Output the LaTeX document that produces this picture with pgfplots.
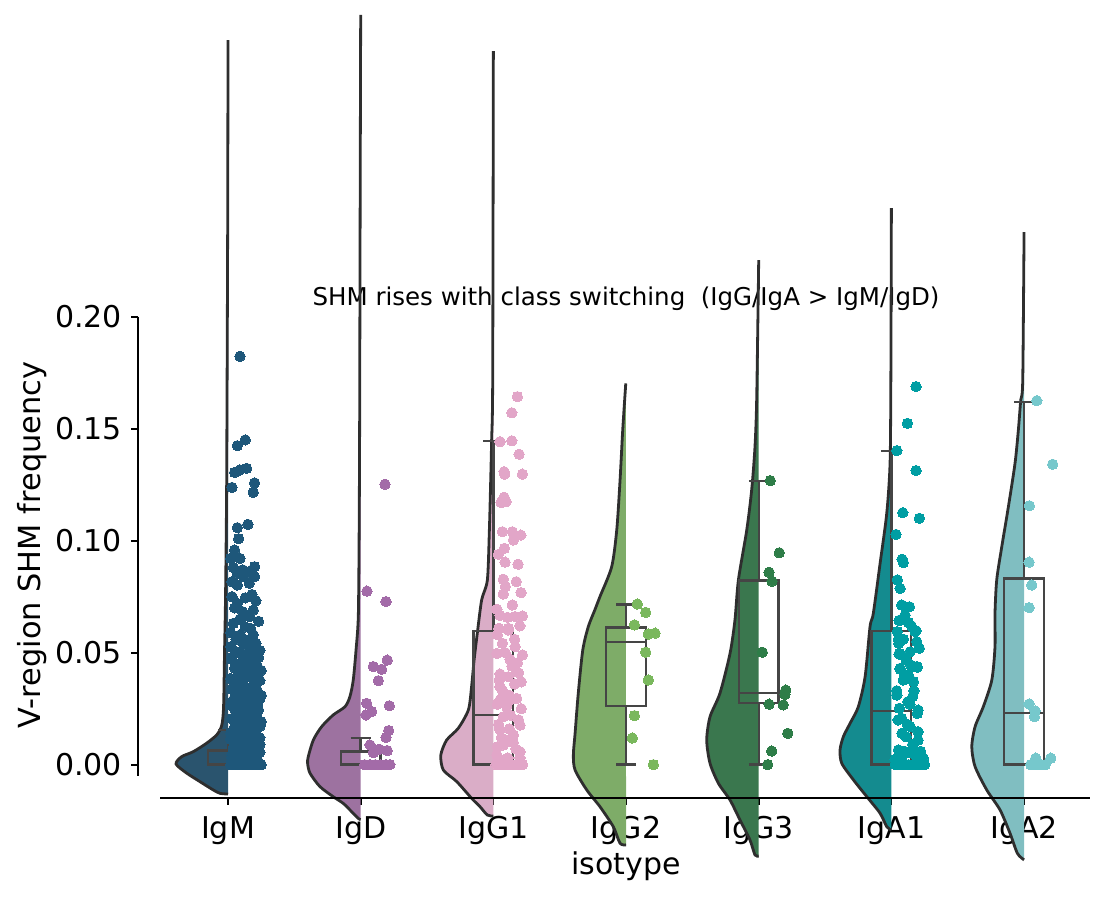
\documentclass[border=0pt]{standalone}
\usepackage{fontspec}
\setmainfont{DejaVu Sans}
\usepackage{pgfplots}
\pgfplotsset{compat=1.18}
\usepackage{pgfplotstable}
\usepgfplotslibrary{statistics}

\definecolor{pM}{HTML}{1E577A}
\definecolor{pD}{HTML}{A36BA8}
\definecolor{pG1}{HTML}{E2A6C8}
\definecolor{pG2}{HTML}{7AB85D}
\definecolor{pG3}{HTML}{2E7D48}
\definecolor{pA1}{HTML}{009EA3}
\definecolor{pA2}{HTML}{76C8CC}
\definecolor{vM}{HTML}{2A546E}
\definecolor{vD}{HTML}{9D72A0}
\definecolor{vG1}{HTML}{DAADC7}
\definecolor{vG2}{HTML}{7EAC68}
\definecolor{vG3}{HTML}{3A774E}
\definecolor{vA1}{HTML}{148B8F}
\definecolor{vA2}{HTML}{80BEC1}
\definecolor{vline}{HTML}{2E2E2E}
\definecolor{boxc}{HTML}{454545}

% ---------- violin outlines: y, half width ----------
\pgfplotstableread{
y w
-0.0131 0
-0.0128 0.060
-0.0113 0.111
-0.0076 0.211
-0.0038 0.311
0.0003 0.392
0.0036 0.349
0.0058 0.262
0.0096 0.161
0.0133 0.085
0.0170 0.050
0.0214 0.038
0.0289 0.032
0.0510 0.026
0.0735 0.019
0.1180 0.011
0.1630 0.0075
0.2075 0.0045
0.2520 0.002
0.3235 0
}\violM
\pgfplotstableread{
y w
-0.0245 0
-0.0240 0.018
-0.0210 0.068
-0.0173 0.131
-0.0143 0.207
-0.0098 0.307
-0.0038 0.382
0.0006 0.400
0.0036 0.395
0.0110 0.357
0.0170 0.294
0.0222 0.207
0.0259 0.118
0.0304 0.081
0.0378 0.056
0.0512 0.035
0.0661 0.018
0.1000 0.012
0.1500 0.008
0.2500 0.004
0.3347 0
}\violD
\pgfplotstableread{
y w
-0.0229 0
-0.0225 0.045
-0.0188 0.100
-0.0150 0.164
-0.0075 0.277
-0.0024 0.377
0.0043 0.396
0.0110 0.352
0.0163 0.264
0.0245 0.188
0.0349 0.164
0.0468 0.145
0.0587 0.121
0.0736 0.088
0.0825 0.045
0.1048 0.030
0.1271 0.020
0.1450 0.013
0.1722 0.005
0.3186 0
}\violGa
\pgfplotstableread{
y w
-0.0358 0
-0.0351 0.045
-0.0277 0.096
-0.0188 0.196
-0.0113 0.296
-0.0024 0.384
0.0043 0.397
0.0140 0.384
0.0319 0.360
0.0512 0.326
0.0617 0.284
0.0691 0.235
0.0751 0.196
0.0884 0.108
0.1048 0.070
0.1271 0.045
0.1494 0.025
0.1702 0.002
}\violGb
\pgfplotstableread{
y w
-0.0408 0
-0.0403 0.028
-0.0336 0.066
-0.0247 0.141
-0.0158 0.216
-0.0083 0.304
0.0006 0.367
0.0110 0.392
0.0214 0.367
0.0319 0.292
0.0497 0.216
0.0646 0.179
0.0825 0.153
0.1048 0.090
0.1227 0.053
0.1420 0.028
0.1640 0.015
0.2253 0
}\violGc
\pgfplotstableread{
y w
-0.0292 0
-0.0277 0.035
-0.0217 0.085
-0.0143 0.185
-0.0068 0.286
0.0006 0.374
0.0066 0.387
0.0125 0.362
0.0185 0.311
0.0259 0.249
0.0393 0.198
0.0616 0.161
0.0676 0.136
0.0899 0.085
0.1122 0.035
0.1346 0.010
0.1717 0.004
0.2485 0
}\violAa
\pgfplotstableread{
y w
-0.0425 0
-0.0396 0.050
-0.0306 0.106
-0.0202 0.181
-0.0113 0.281
-0.0009 0.369
0.0080 0.394
0.0170 0.369
0.0259 0.307
0.0378 0.243
0.0527 0.219
0.0676 0.219
0.0825 0.206
0.0973 0.168
0.1152 0.118
0.1346 0.068
0.1494 0.043
0.1628 0.025
0.1717 0.010
0.2378 0
}\violAb

% ---------- jittered points: x offset, y ----------
\pgfplotstableread{
dx y
0.09 0.1823
0.13 0.1450
0.07 0.1424
0.14 0.1323
0.09 0.1316
0.05 0.1305
0.20 0.1258
0.03 0.1238
0.19 0.1216
0.15 0.1073
0.07 0.1058
0.08 0.1009
0.05 0.0958
0.02 0.0921
0.09 0.0921
0.20 0.0884
0.16 0.0862
0.07 0.0854
0.12 0.0839
0.20 0.0839
0.03 0.0817
0.16 0.0810
0.07 0.0802
0.21 0.0732
0.03 0.0750
0.07 0.0720
0.11 0.0683
0.16 0.0661
0.04 0.0631
0.17 0.0609
0.09 0.0579
0.21 0.0542
0.02 0.0527
0.12 0.0535
0.19 0.0520
0.06 0.0505
0.15 0.0490
0.23 0.0478
0.03 0.0470
0.10 0.0455
0.18 0.0448
0.22 0.0440
0.05 0.0432
0.13 0.0420
0.20 0.0410
0.08 0.0400
0.16 0.0392
0.02 0.0385
0.24 0.0375
0.11 0.0368
0.06 0.0360
0.19 0.0352
0.14 0.0345
0.03 0.0336
0.22 0.0330
0.09 0.0322
0.17 0.0315
0.12 0.0308
0.05 0.0300
0.24 0.0294
0.20 0.0288
0.08 0.0280
0.14 0.0272
0.02 0.0265
0.18 0.0258
0.11 0.0250
0.23 0.0244
0.06 0.0236
0.15 0.0228
0.21 0.0220
0.09 0.0214
0.03 0.0206
0.13 0.0200
0.25 0.0192
0.18 0.0186
0.07 0.0178
0.11 0.0170
0.22 0.0163
0.04 0.0156
0.16 0.0150
0.20 0.0142
0.09 0.0135
0.13 0.0128
0.24 0.0120
0.02 0.0114
0.18 0.0107
0.07 0.0100
0.12 0.0094
0.21 0.0088
0.15 0.0080
0.04 0.0074
0.10 0.0068
0.19 0.0061
0.24 0.0055
0.07 0.0048
0.13 0.0042
0.17 0.0036
0.03 0.0030
0.22 0.0024
0.10 0.0018
0.15 0.0012
0.05 0.0006
0.02 0.0000
0.06 0.0000
0.10 0.0000
0.14 0.0000
0.18 0.0000
0.22 0.0000
0.25 0.0000
0.16 0.0445
0.07 0.0395
0.21 0.0360
0.12 0.0280
0.17 0.0240
0.05 0.0160
0.20 0.0110
0.10 0.0050
0.04 0.0880
0.11 0.0870
0.18 0.0760
0.13 0.0745
0.05 0.0700
0.19 0.0690
0.09 0.0650
0.23 0.0640
0.13 0.0615
0.02 0.0590
0.19 0.0580
0.06 0.0560
0.15 0.0555
0.24 0.0510
0.09 0.0500
0.03 0.0480
0.20 0.0465
0.12 0.0462
0.07 0.0440
0.25 0.0420
0.17 0.0410
0.10 0.0380
0.04 0.0370
0.21 0.0380
0.14 0.0330
0.07 0.0320
0.25 0.0310
0.18 0.0300
0.10 0.0290
0.03 0.0280
0.22 0.0270
0.15 0.0260
0.08 0.0240
0.19 0.0220
0.12 0.0210
0.05 0.0190
0.24 0.0170
0.15 0.0160
0.09 0.0150
0.02 0.0140
0.20 0.0130
0.11 0.0115
0.06 0.0100
0.24 0.0090
0.16 0.0070
0.09 0.0060
0.03 0.0045
0.21 0.0040
0.12 0.0025
0.19 0.0010
0.07 0.0015
0.23 0.0000
}\ptsM
\pgfplotstableread{
dx y
0.183 0.1252
0.047 0.0775
0.191 0.0728
0.200 0.0467
0.095 0.0438
0.158 0.0426
0.133 0.0375
0.045 0.0274
0.216 0.0263
0.040 0.0222
0.083 0.0237
0.211 0.0152
0.191 0.0122
0.070 0.0088
0.140 0.0069
0.200 0.0063
0.095 0.0054
0.03 0
0.07 0
0.11 0
0.15 0
0.19 0
0.22 0
}\ptsD
\pgfplotstableread{
dx y
0.181 0.1643
0.139 0.1571
0.050 0.1442
0.139 0.1446
0.194 0.1386
0.081 0.1308
0.085 0.1297
0.219 0.1297
0.081 0.1194
0.058 0.1170
0.096 0.1174
0.068 0.1040
0.143 0.1040
0.207 0.1025
0.151 0.1003
0.083 0.0966
0.038 0.0939
0.088 0.0904
0.186 0.0895
0.075 0.0828
0.173 0.0817
0.090 0.0795
0.209 0.0768
0.075 0.0762
0.143 0.0713
0.026 0.0694
0.050 0.0667
0.106 0.0658
0.219 0.0664
0.164 0.0661
0.041 0.0609
0.113 0.0609
0.068 0.0542
0.164 0.0527
0.219 0.0490
0.026 0.0497
0.126 0.0470
0.181 0.0455
0.050 0.0405
0.176 0.0415
0.113 0.0601
0.045 0.0378
0.113 0.0393
0.050 0.0348
0.176 0.0296
0.050 0.0289
0.101 0.0259
0.075 0.0214
0.201 0.0177
0.050 0.0155
0.151 0.0133
0.075 0.0088
0.201 0.0058
0.026 0.0043
0.12 0.0310
0.16 0.0360
0.03 0.0270
0.19 0.0410
0.09 0.0110
0.17 0.0070
0.04 0.0180
0.13 0.0220
0.21 0.0250
0.11 0.0030
0.02 0
0.06 0
0.10 0
0.14 0
0.18 0
0.22 0
0.16 0.0560
0.03 0.0580
0.20 0.0620
0.09 0.0500
0.14 0.0440
0.21 0.0370
0.07 0.0330
0.13 0.0290
0.19 0.0200
0.06 0.0120
0.15 0.0100
0.20 0.0030
0.08 0.0020
0.12 0.0160
0.03 0.0080
}\ptsGa
\pgfplotstableread{
dx y
0.085 0.0717
0.148 0.0680
0.063 0.0624
0.219 0.0587
0.168 0.0583
0.148 0.0502
0.168 0.0378
0.063 0.0219
0.047 0.0119
0.206 0.0
}\ptsGb
\pgfplotstableread{
dx y
0.087 0.1268
0.155 0.0946
0.078 0.0859
0.100 0.0819
0.027 0.0502
0.204 0.0333
0.198 0.0314
0.078 0.0270
0.185 0.0267
0.219 0.0140
0.098 0.0061
0.068 0.0
}\ptsGc
\pgfplotstableread{
dx y
0.186 0.1688
0.121 0.1524
0.041 0.1402
0.186 0.1313
0.086 0.1125
0.211 0.1100
0.035 0.1028
0.081 0.0917
0.090 0.0902
0.045 0.0825
0.066 0.0787
0.078 0.0713
0.136 0.0705
0.103 0.0668
0.058 0.0643
0.128 0.0636
0.186 0.0598
0.045 0.0594
0.191 0.0549
0.056 0.0542
0.141 0.0504
0.058 0.0494
0.146 0.0445
0.196 0.0435
0.066 0.0430
0.103 0.0396
0.066 0.0646
0.179 0.0594
0.053 0.0560
0.060 0.0497
0.191 0.0438
0.066 0.0426
0.128 0.0400
0.090 0.0378
0.166 0.0371
0.041 0.0311
0.161 0.0304
0.124 0.0281
0.060 0.0252
0.201 0.0244
0.196 0.0229
0.078 0.0207
0.141 0.0170
0.201 0.0147
0.111 0.0125
0.201 0.0110
0.053 0.0066
0.128 0.0054
0.179 0.0043
0.028 0.0024
0.078 0.0029
0.03 0
0.07 0
0.10 0
0.13 0
0.16 0
0.19 0
0.22 0
0.25 0
0.15 0.0620
0.09 0.0560
0.21 0.0520
0.11 0.0470
0.17 0.0330
0.05 0.0200
0.12 0.0180
0.22 0.0060
0.16 0.0090
0.08 0.0140
0.04 0.0330
0.14 0.0270
0.10 0.0060
0.24 0.0030
}\ptsAa
\pgfplotstableread{
dx y
0.096 0.1625
0.216 0.1341
0.040 0.1156
0.038 0.0904
0.058 0.0802
0.038 0.0701
0.038 0.0271
0.083 0.0240
0.078 0.0214
0.088 0.0029
0.201 0.0029
0.05 0
0.09 0
0.13 0
0.16 0
}\ptsAb

\begin{document}
\begin{tikzpicture}
\begin{axis}[
  scale only axis, width=476pt, height=399pt,
  xmin=-0.6784, xmax=6.497, ymin=-0.01487, ymax=0.3414,
  clip=false,
  axis lines*=left, axis line style={draw=none},
  xtick={0,1,2,3,4,5,6},
  xticklabels={IgM,IgD,IgG1,IgG2,IgG3,IgA1,IgA2},
  ytick={0,0.05,0.1,0.15,0.2},
  scaled y ticks=false,
  yticklabel style={/pgf/number format/fixed, /pgf/number format/fixed zerofill, /pgf/number format/precision=2},
  /pgf/number format/assume math mode=true,
  tick align=outside, major tick length=3.5pt,
  tick style={black, line width=1pt},
  ticklabel style={font=\fontsize{15}{18}\selectfont, inner sep=0pt},
  xticklabel style={anchor=base, yshift=-16.8pt},
  yticklabel style={anchor=east, xshift=-4.3pt},
  boxplot/draw direction=y,
]
% title
\node[font=\fontsize{12.25}{14}\selectfont, anchor=base] at (axis cs:3.0,0.2052) {SHM rises with class switching~ (IgG/IgA > IgM/IgD)};

% violins (fill then outline)
\addplot[draw=none, fill=vM, smooth, tension=0.45] table[x expr=0-\thisrow{w}, y=y] {\violM};
\addplot[draw=vline, line width=1.4pt, smooth, tension=0.45] table[x expr=0-\thisrow{w}, y=y] {\violM};
\addplot[draw=none, fill=vD, smooth, tension=0.45] table[x expr=1-\thisrow{w}, y=y] {\violD};
\addplot[draw=vline, line width=1.4pt, smooth, tension=0.45] table[x expr=1-\thisrow{w}, y=y] {\violD};
\addplot[draw=none, fill=vG1, smooth, tension=0.45] table[x expr=2-\thisrow{w}, y=y] {\violGa};
\addplot[draw=vline, line width=1.4pt, smooth, tension=0.45] table[x expr=2-\thisrow{w}, y=y] {\violGa};
\addplot[draw=none, fill=vG2, smooth, tension=0.45] table[x expr=3-\thisrow{w}, y=y] {\violGb};
\addplot[draw=vline, line width=1.4pt, smooth, tension=0.45] table[x expr=3-\thisrow{w}, y=y] {\violGb};
\addplot[draw=none, fill=vG3, smooth, tension=0.45] table[x expr=4-\thisrow{w}, y=y] {\violGc};
\addplot[draw=vline, line width=1.4pt, smooth, tension=0.45] table[x expr=4-\thisrow{w}, y=y] {\violGc};
\addplot[draw=none, fill=vA1, smooth, tension=0.45] table[x expr=5-\thisrow{w}, y=y] {\violAa};
\addplot[draw=vline, line width=1.4pt, smooth, tension=0.45] table[x expr=5-\thisrow{w}, y=y] {\violAa};
\addplot[draw=none, fill=vA2, smooth, tension=0.45] table[x expr=6-\thisrow{w}, y=y] {\violAb};
\addplot[draw=vline, line width=1.4pt, smooth, tension=0.45] table[x expr=6-\thisrow{w}, y=y] {\violAb};

% points
\pgfplotsset{mypts/.style={only marks, mark=*, mark size=2.6pt, color=#1, mark options={draw=#1, fill=#1, line width=0pt}}}
\addplot[mypts=pM] table[x expr=0+\thisrow{dx}, y=y] {\ptsM};
\addplot[mypts=pD] table[x expr=1+\thisrow{dx}, y=y] {\ptsD};
\addplot[mypts=pG1] table[x expr=2+\thisrow{dx}, y=y] {\ptsGa};
\addplot[mypts=pG2] table[x expr=3+\thisrow{dx}, y=y] {\ptsGb};
\addplot[mypts=pG3] table[x expr=4+\thisrow{dx}, y=y] {\ptsGc};
\addplot[mypts=pA1] table[x expr=5+\thisrow{dx}, y=y] {\ptsAa};
\addplot[mypts=pA2] table[x expr=6+\thisrow{dx}, y=y] {\ptsAb};

% boxes
\pgfplotsset{mybox/.style={draw=boxc, line width=1.2pt, solid, fill=none, mark=none}}
\addplot[mybox, boxplot prepared={draw position=0, lower whisker=0, lower quartile=0, median=0, upper quartile=0.0063, upper whisker=0.0155, box extend=0.3, whisker extend=0.15}] coordinates {};
\addplot[mybox, boxplot prepared={draw position=1, lower whisker=0, lower quartile=0, median=0, upper quartile=0.0058, upper whisker=0.0118, box extend=0.3, whisker extend=0.15}] coordinates {};
\addplot[mybox, boxplot prepared={draw position=2, lower whisker=0, lower quartile=0, median=0.0222, upper quartile=0.0596, upper whisker=0.1444, box extend=0.3, whisker extend=0.15}] coordinates {};
\addplot[mybox, boxplot prepared={draw position=3, lower whisker=0, lower quartile=0.0262, median=0.0547, upper quartile=0.0613, upper whisker=0.0716, box extend=0.3, whisker extend=0.15}] coordinates {};
\addplot[mybox, boxplot prepared={draw position=4, lower whisker=0, lower quartile=0.0276, median=0.0320, upper quartile=0.0822, upper whisker=0.1267, box extend=0.3, whisker extend=0.15}] coordinates {};
\addplot[mybox, boxplot prepared={draw position=5, lower whisker=0, lower quartile=0, median=0.0240, upper quartile=0.0596, upper whisker=0.1400, box extend=0.3, whisker extend=0.15}] coordinates {};
\addplot[mybox, boxplot prepared={draw position=6, lower whisker=0, lower quartile=0, median=0.0231, upper quartile=0.0831, upper whisker=0.1620, box extend=0.3, whisker extend=0.15}] coordinates {};

% spines (offset, trimmed)
\draw[line width=1pt, black] (axis cs:-0.6784,0.2) -- (axis cs:-0.6784,-0.00504);
\draw[line width=1pt, black] (axis cs:-0.5125,-0.01487) -- (axis cs:6.497,-0.01487);

% labels
\node[font=\fontsize{15}{18}\selectfont, anchor=base] at (axis cs:3.0,-0.0492) {isotype};
\node[font=\fontsize{15.2}{18}\selectfont, rotate=90, anchor=base] at (axis cs:-1.417,0.0981) {V-region SHM frequency};

% picture extent
\path (axis cs:-1.7186,-0.05906) rectangle (axis cs:6.6176,0.3414);
\end{axis}
\end{tikzpicture}
\end{document}
